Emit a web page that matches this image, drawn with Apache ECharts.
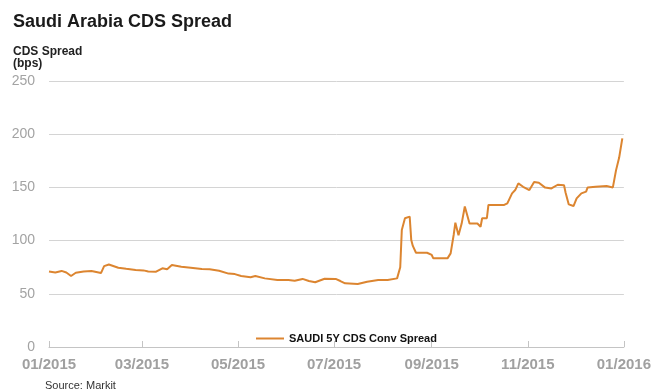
<!DOCTYPE html>
<html>
<head>
<meta charset="utf-8">
<script src="https://cdn.jsdelivr.net/npm/echarts@6/dist/echarts.min.js"></script>
<style>html,body{margin:0;padding:0;background:#fff;}#c{width:654px;height:392px;}</style>
</head>
<body>
<div id="c"></div>
<script>
var dates = ['2015-01-01','2015-01-05','2015-01-09','2015-01-12','2015-01-15','2015-01-18','2015-01-23','2015-01-28',
'2015-02-03','2015-02-05','2015-02-08','2015-02-14','2015-02-19','2015-02-25','2015-03-02','2015-03-05','2015-03-10',
'2015-03-14','2015-03-17','2015-03-20','2015-03-26','2015-04-01','2015-04-08','2015-04-13','2015-04-19','2015-04-25',
'2015-04-29','2015-05-03','2015-05-09','2015-05-12','2015-05-18','2015-05-26','2015-06-02','2015-06-06','2015-06-11',
'2015-06-15','2015-06-19','2015-06-25','2015-07-02','2015-07-05','2015-07-08','2015-07-16','2015-07-22','2015-07-29',
'2015-08-04','2015-08-10','2015-08-12','2015-08-13','2015-08-15','2015-08-18','2015-08-19','2015-08-20','2015-08-22',
'2015-08-29','2015-09-01','2015-09-02','2015-09-11','2015-09-13','2015-09-15','2015-09-16','2015-09-18','2015-09-20',
'2015-09-22','2015-09-25','2015-09-30','2015-10-02','2015-10-03','2015-10-06','2015-10-07','2015-10-17','2015-10-19',
'2015-10-22','2015-10-24','2015-10-26','2015-10-29','2015-11-02','2015-11-05','2015-11-08','2015-11-12','2015-11-16',
'2015-11-20','2015-11-24','2015-11-25','2015-11-27','2015-11-30','2015-12-02','2015-12-05','2015-12-08','2015-12-09',
'2015-12-14','2015-12-21','2015-12-25','2015-12-27','2015-12-29','2015-12-31'];
var spread = [71,70,71.5,70,66.7,69.8,71,71.5,
69.5,76,77.5,74.5,73.5,72.4,72,71,70.8,
74,73,77,75.5,74.5,73.3,73,71.7,69,
68.5,66.7,65.5,66.7,64.5,63,63,62.3,64,
62,60.8,64.2,64,62,59.8,59.2,61.4,63,
63,64.5,75,110,121,122.5,100.5,95,88.6,
88.6,86.5,83.3,83.3,88,106,116.8,105,116,
132,116,116,113,121,121,133.5,133.5,135,
144.4,147.5,153.8,150.6,147.5,155,154.4,149.8,149,
152.5,152,145,134,132.5,139.7,144.4,146,150,
150.6,151.3,150,166,178,196];
var tickDates = ['2015-01-01','2015-03-01','2015-05-01','2015-07-01','2015-09-01','2015-11-01','2016-01-01'];
var tickLabels = ['01/2015','03/2015','05/2015','07/2015','09/2015','11/2015','01/2016'];
var yTicks = [0,50,100,150,200,250];
var seriesName = 'SAUDI 5Y CDS Conv Spread';

function ts(s){var p=s.split('-');return Date.UTC(+p[0],+p[1]-1,+p[2]);}
var tickTs = tickDates.map(ts);
var data = dates.map(function(d,i){return [ts(d), spread[i]];});

var chart = echarts.init(document.getElementById('c'), null, {renderer:'canvas'});
chart.setOption({
  animation:false,
  backgroundColor:'#fff',
  title:[
    {text:'Saudi Arabia CDS Spread',left:8,top:8,textStyle:{fontFamily:'Liberation Sans, Arial',fontSize:18,fontWeight:'bold',color:'#1a1a1a'}},
    {text:'CDS Spread\n(bps)',left:8,top:41,textStyle:{fontFamily:'Liberation Sans, Arial',fontSize:12,fontWeight:'bold',color:'#222',lineHeight:12}},
    {text:'Source: Markit',left:40,top:375,textStyle:{fontFamily:'Liberation Sans, Arial',fontSize:11,fontWeight:'normal',color:'#333'}}
  ],
  legend:{
    data:[seriesName],left:251,top:328,icon:'rect',itemWidth:28,itemHeight:2,itemGap:6,
    textStyle:{fontFamily:'Liberation Sans, Arial',fontSize:11,fontWeight:'bold',color:'#111',padding:[0,0,0,0]}
  },
  grid:{left:49,right:27,top:81,bottom:45,containLabel:false},
  xAxis:{
    type:'value',min:tickTs[0],max:tickTs[tickTs.length-1],
    axisLine:{show:true,lineStyle:{color:'#c4c4c4',width:1}},
    axisTick:{show:true,inside:true,length:6,lineStyle:{color:'#c4c4c4'},customValues:tickTs},
    axisLabel:{customValues:tickTs,margin:10,fontFamily:'Liberation Sans, Arial',fontSize:15,fontWeight:'bold',color:'#a0a0a0',
      formatter:function(v){for(var i=0;i<tickTs.length;i++){if(Math.abs(tickTs[i]-v)<1000)return tickLabels[i];}return '';}},
    splitLine:{show:false}
  },
  yAxis:{
    type:'value',min:yTicks[0],max:yTicks[yTicks.length-1],interval:50,
    axisLine:{show:false},axisTick:{show:false},
    axisLabel:{margin:14,fontFamily:'Liberation Sans, Arial',fontSize:14,color:'#a3a3a3'},
    splitLine:{show:true,lineStyle:{color:'#d4d4d4',width:1}}
  },
  series:[{
    name:seriesName,type:'line',data:data,showSymbol:false,symbol:'none',
    lineStyle:{color:'#dc8530',width:2},itemStyle:{color:'#dc8530'}
  }]
});
</script>
</body>
</html>
